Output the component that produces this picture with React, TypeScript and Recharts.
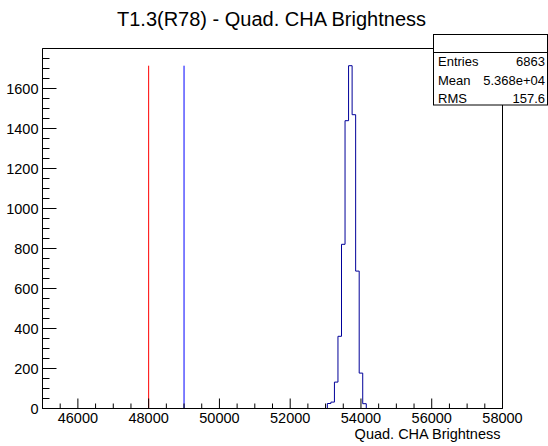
import React from 'react';
import { ComposedChart, Line, XAxis, YAxis, ReferenceLine, ReferenceArea } from 'recharts';

// Histogram: low edge of each bin and its content (first/last points close the outline on the axis)
const binLowEdges = [45000, 53050, 53150, 53250, 53350, 53450, 53550, 53650, 53750, 53850, 53950, 54050, 54150, 58000];
const binCounts = [0, 25, 32, 132, 361, 821, 1439, 1714, 1469, 687, 177, 24, 0, 0];

// Vertical cut lines
const cutValues = [48000, 49000];
const cutColors = ['#ff0000', '#0000ff'];
const cutTop = 1714;

// Axis ticks
const xTicks = [45500, 46000, 46500, 47000, 47500, 48000, 48500, 49000, 49500, 50000, 50500, 51000, 51500, 52000, 52500, 53000, 53500, 54000, 54500, 55000, 55500, 56000, 56500, 57000, 57500, 58000];
const xLabelTicks = [46000, 48000, 50000, 52000, 54000, 56000, 58000];
const yTicks = [0, 50, 100, 150, 200, 250, 300, 350, 400, 450, 500, 550, 600, 650, 700, 750, 800, 850, 900, 950, 1000, 1050, 1100, 1150, 1200, 1250, 1300, 1350, 1400, 1450, 1500, 1550, 1600, 1650, 1700, 1750];
const yLabelTicks = [0, 200, 400, 600, 800, 1000, 1200, 1400, 1600];

const statsLabels = ['Entries', 'Mean', 'RMS'];
const statsValues = ['6863', '5.368e+04', '157.6'];

const title = 'T1.3(R78) - Quad. CHA Brightness';
const xTitle = 'Quad. CHA Brightness';

const FONT = '"Liberation Sans", Arial, Helvetica, sans-serif';

const histData = binLowEdges.map((x, i) => ({ x, y: binCounts[i] }));

const XTick = (props: any) => {
  const { x, y, payload } = props;
  const v = payload.value;
  const major = xLabelTicks.includes(v);
  return (
    <g>
      <line x1={x} x2={x} y1={y} y2={y - (major ? 10 : 5)} stroke="#000" strokeWidth={1} />
      {major && (
        <text x={x} y={y + 14.5} textAnchor="middle" fontSize={14.5} fontFamily={FONT} fill="#000">
          {v}
        </text>
      )}
    </g>
  );
};

const YTick = (props: any) => {
  const { x, y, payload } = props;
  const v = payload.value;
  const major = yLabelTicks.includes(v);
  return (
    <g>
      <line x1={x} x2={x + (major ? 14 : 7)} y1={y} y2={y} stroke="#000" strokeWidth={1} />
      {major && (
        <text x={x - 4} y={y + 5} textAnchor="end" fontSize={14.5} fontFamily={FONT} fill="#000">
          {v}
        </text>
      )}
    </g>
  );
};

export default function App() {
  const rowBaselines = [66, 84.5, 102.5];
  return (
    <div style={{ position: 'absolute', left: 0, top: 0, width: 548, height: 446, background: '#fff' }}>
      <ComposedChart
        width={548}
        height={446}
        data={histData}
        margin={{ top: 48.5, right: 45.5, bottom: 0, left: 0 }}
      >
        <XAxis
          dataKey="x"
          type="number"
          domain={[45000, 58000]}
          allowDataOverflow
          ticks={xTicks}
          interval={0}
          tick={<XTick />}
          tickLine={false}
          tickSize={0}
          tickMargin={0}
          height={37.5}
          axisLine={{ stroke: '#000' }}
        />
        <YAxis
          type="number"
          domain={[0, 1800]}
          allowDataOverflow
          ticks={yTicks}
          interval={0}
          tick={<YTick />}
          tickLine={false}
          tickSize={0}
          tickMargin={0}
          width={42.5}
          axisLine={{ stroke: '#000' }}
        />
        <ReferenceArea x1={45000} x2={58000} y1={0} y2={1800} fill="none" fillOpacity={0} stroke="#000" strokeWidth={1} />
        {cutValues.map((c, i) => (
          <ReferenceLine
            key={c}
            segment={[{ x: c, y: 0 }, { x: c, y: cutTop }]}
            stroke={cutColors[i]}
            strokeWidth={1}
          />
        ))}
        <Line
          dataKey="y"
          type="stepAfter"
          stroke="#000099"
          strokeWidth={1}
          dot={false}
          activeDot={false}
          isAnimationActive={false}
        />
      </ComposedChart>
      <svg
        width={548}
        height={446}
        style={{ position: 'absolute', left: 0, top: 0, pointerEvents: 'none' }}
      >
        <text x={271.5} y={25.5} textAnchor="middle" fontSize={20} fontFamily={FONT} fill="#000">
          {title}
        </text>
        <rect x={433.5} y={34.5} width={114} height={70.5} fill="#fff" stroke="#000" strokeWidth={1} />
        <line x1={433.5} x2={547.5} y1={52.5} y2={52.5} stroke="#000" strokeWidth={1} />
        {statsLabels.map((l, i) => (
          <g key={l}>
            <text x={438} y={rowBaselines[i]} fontSize={13} fontFamily={FONT} fill="#000">
              {l}
            </text>
            <text x={545} y={rowBaselines[i]} textAnchor="end" fontSize={13} fontFamily={FONT} fill="#000">
              {statsValues[i]}
            </text>
          </g>
        ))}
        <text x={500.5} y={439} textAnchor="end" fontSize={14.5} fontFamily={FONT} fill="#000">
          {xTitle}
        </text>
      </svg>
    </div>
  );
}
